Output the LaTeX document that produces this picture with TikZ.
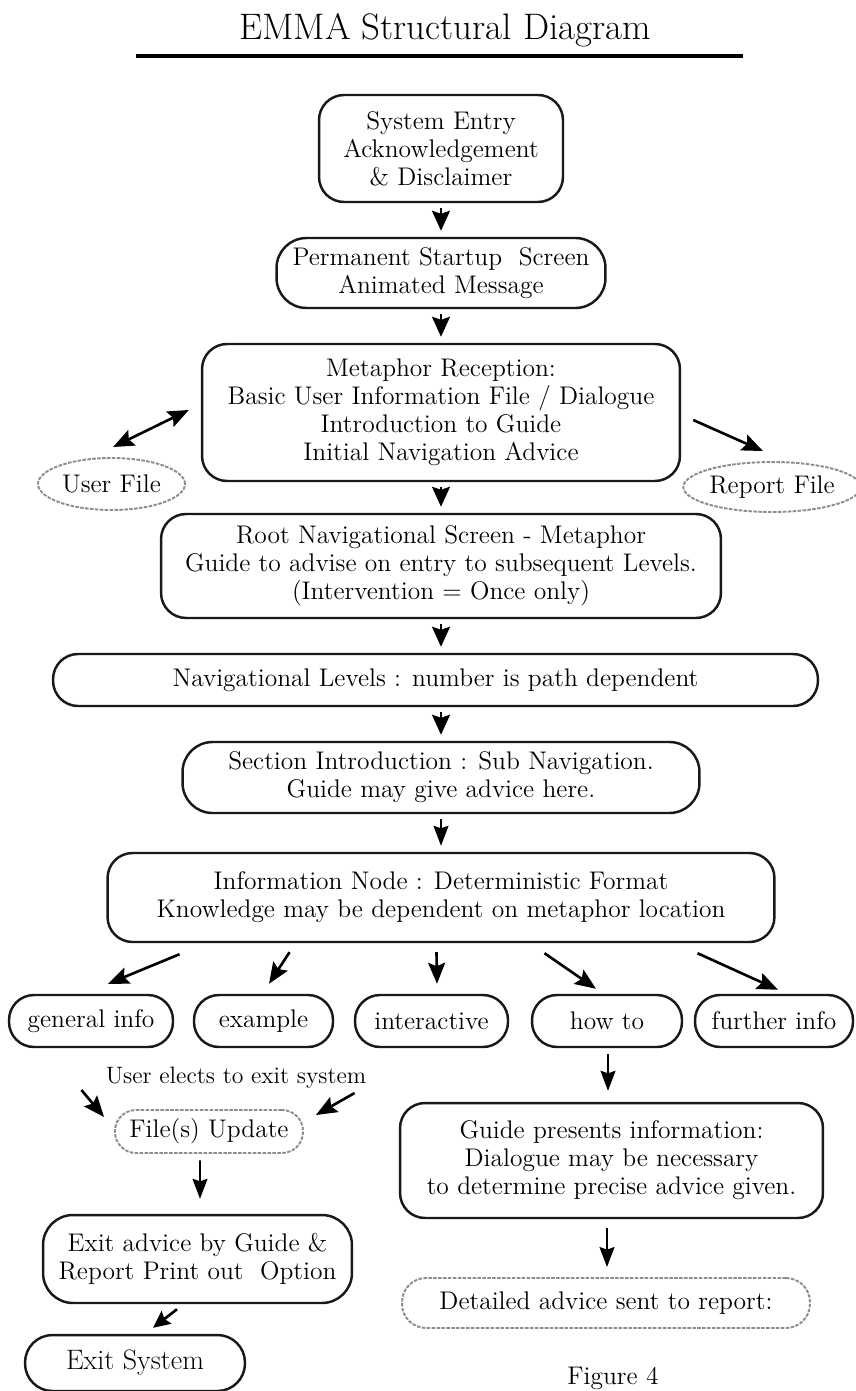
\documentclass[tikz,border=0pt]{standalone}
\usepackage{fontspec}
\colorlet{BoxBorder}{black!90}
\colorlet{FileBorder}{black!45}
\usetikzlibrary{shapes.geometric,arrows.meta,calc}

\begin{document}
\begin{tikzpicture}[x=0.02cm,y=-0.02cm,
  every node/.style={font=\fontsize{14.5}{16}\selectfont, align=center, inner sep=2pt},
  box/.style={draw=BoxBorder, line width=1.4pt, rounded corners=0.5cm},
  filebox/.style={draw=FileBorder, line width=1.1pt, dash pattern=on 2pt off 0.8pt},
  flow/.style={line width=1.3pt, -{Stealth[length=0.4cm,width=0.36cm,inset=0.06cm]},
    shorten <=0.1cm, shorten >=0.12cm},
  thinflow/.style={line width=1pt, -{Stealth[length=0.4cm,width=0.3cm,inset=0.05cm]}},
  diag/.style={line width=1.5pt, -{Stealth[length=0.42cm,width=0.34cm,inset=0.07cm]}}]

\useasboundingbox (0,0) rectangle (855,1391);

% Titulo
\node[font=\fontsize{21}{24}\selectfont, anchor=base] (title) at (445,40) {EMMA Structural Diagram};
\draw[line width=1.8pt] (136,56) -- (743,56);

% Cajas de la columna central
\node[box, minimum width=4.88cm, minimum height=2.14cm] (entry) at (441,148.5)
  {System Entry\\Acknowledgement\\\& Disclaimer};
\node[box, rounded corners=0.6cm, minimum width=6.58cm, minimum height=1.4cm] (startup) at (441,273)
  {Permanent Startup~ Screen\\Animated Message};
\node[box, minimum width=9.56cm, minimum height=2.74cm] (reception) at (441,412.5)
  {Metaphor Reception:\\Basic User Information File / Dialogue\\Introduction to Guide\\Initial Navigation Advice};
\node[filebox, ellipse, inner sep=0pt, minimum width=2.94cm, minimum height=1.04cm] (userfile) at (111.5,484) {User File};
\node[filebox, ellipse, inner sep=0pt, minimum width=2.78cm, minimum height=1cm] (reportfile) at (772,487) {Report File};
\node[box, minimum width=11.2cm, minimum height=2.08cm] (rootnav) at (441,566)
  {Root Navigational Screen - Metaphor\\Guide to advise on entry to subsequent Levels.\\(Intervention = Once only)};
\node[box, minimum width=15.3cm, minimum height=1.04cm] (navlevels) at (435.5,680)
  {Navigational Levels : number is path dependent};
\node[box, rounded corners=0.6cm, minimum width=10.34cm, minimum height=1.42cm] (sectionintro) at (441,777.5)
  {Section Introduction : Sub Navigation.\\Guide may give advice here.};
\node[box, minimum width=13.34cm, minimum height=1.78cm] (infonode) at (441,897.5)
  {Information Node : Deterministic Format\\Knowledge may be dependent on metaphor location};

% Hojas
\node[box, minimum width=3.28cm, minimum height=1.04cm] (general) at (91,1021) {general info};
\node[box, minimum width=2.78cm, minimum height=1.04cm] (example) at (263.5,1021) {example};
\node[box, minimum width=3.06cm, minimum height=1.04cm] (interactive) at (431.5,1021) {interactive};
\node[box, minimum width=3cm, minimum height=1.04cm] (howto) at (607,1021) {how to};
\node[box, minimum width=3.16cm, minimum height=1.04cm] (further) at (774,1021) {further info};

% Rama de salida
\node[font=\fontsize{13.5}{16}\selectfont] (usertext) at (236,1078) {User elects to exit system};
\node[filebox, rounded corners=0.42cm, minimum width=3.76cm, minimum height=0.86cm] (filesupdate) at (209,1131.5) {File(s) Update};
\node[box, rounded corners=0.6cm, minimum width=6.18cm, minimum height=1.76cm] (exitadvice) at (197.5,1259)
  {Exit advice by Guide \&\\Report Print out~ Option};
\node[box, rounded corners=0.55cm, font=\fontsize{16}{18}\selectfont, minimum width=4.4cm, minimum height=1.12cm] (exitsystem) at (135,1363) {Exit System};

% Rama de consejo
\node[box, minimum width=8.46cm, minimum height=2.3cm] (guidepresents) at (611.5,1160.5)
  {Guide presents information:\\Dialogue may be necessary\\to determine precise advice given.};
\node[filebox, rounded corners=0.48cm, minimum width=8.16cm, minimum height=1cm] (detailed) at (606,1303)
  {Detailed advice sent to report:};
\node[anchor=north west, inner sep=0pt] (figlabel) at (567,1367) {Figure 4};

% Flechas, de caja en caja
\draw[flow] (entry.south) -- (entry.south |- startup.north);
\draw[flow] (startup.south) -- (startup.south |- reception.north);
\draw[flow] (reception.south) -- (reception.south |- rootnav.north);
\draw[flow] (rootnav.south) -- (rootnav.south |- navlevels.north);
\draw[flow] (navlevels.south -| rootnav.south) -- (rootnav.south |- sectionintro.north);
\draw[thinflow, shorten <=0.1cm, shorten >=0.12cm] (sectionintro.south) -- (sectionintro.south |- infonode.north);

\draw[diag, {Stealth[length=0.42cm,width=0.34cm,inset=0.07cm]}-{Stealth[length=0.42cm,width=0.34cm,inset=0.07cm]}]
  ($(userfile.north)+(1.5,-10)$) -- ($(reception.west)+(-12,-2.5)$);
\draw[diag] ($(reception.east)+(12,7.5)$) -- ($(reportfile.north)+(-9,-10)$);

\draw[diag] ($(infonode.south)+(-261.5,11)$) -- ($(general.north)+(17,-10)$);
\draw[diag] ($(infonode.south)+(-151.5,9)$) -- ($(example.north)+(5.5,-10)$);
\draw[diag] ($(infonode.south)+(-4.5,9)$) -- ($(interactive.north)+(5.5,-10)$);
\draw[diag] ($(infonode.south)+(103.5,10)$) -- ($(howto.north)+(-11,-5)$);
\draw[diag] ($(infonode.south)+(256.5,10)$) -- ($(further.north)+(4,-4)$);

\draw[diag] ($(usertext.west)+(-20.5,12)$) -- ($(filesupdate.west)+(-10,-14.5)$);
\draw[diag] ($(usertext.east)+(-15.5,15)$) -- ($(filesupdate.east)+(12,-16.5)$);
\draw[thinflow] ($(filesupdate.south)+(-9,6.5)$) -- ($(exitadvice.north)+(2.5,-15)$);
\draw[diag, -{Stealth[length=0.34cm,width=0.32cm,inset=0.05cm]}] ($(exitadvice.south)+(-20.5,5)$) -- ($(exitsystem.north)+(18,-6)$);

\draw[thinflow] ($(howto.south)+(1,6)$) -- ($(guidepresents.north)+(-3.5,-11)$);
\draw[thinflow] ($(guidepresents.south)+(-4.5,9)$) -- ($(detailed.north)+(1,-10)$);

\end{tikzpicture}
\end{document}
